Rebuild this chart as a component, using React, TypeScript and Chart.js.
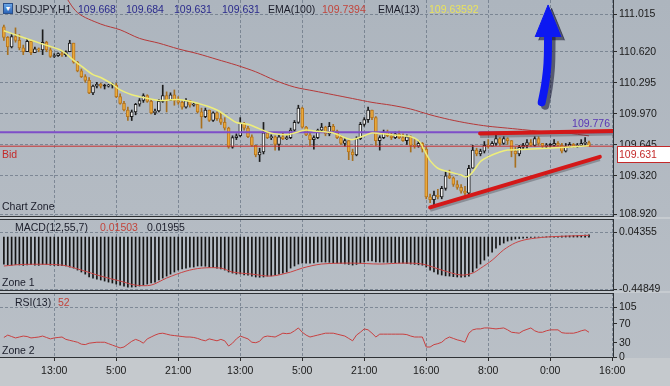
import React, { useEffect, useRef } from "react";
import { Chart, registerables } from "chart.js";

Chart.register(...registerables);

const FONT = '"Liberation Sans", Arial, Helvetica, sans-serif';
const GRID = "rgba(88,102,118,0.6)";
const X_MIN = -1;
const X_MAX = 157.2;

// ---------- time axis ----------
const timeTickIdx = [13, 29, 45, 61, 77, 93, 109, 125, 141, 157];
const timeLabels = ["13:00", "5:00", "21:00", "13:00", "5:00", "21:00", "16:00", "8:00", "0:00", "16:00"];

// ---------- candles (USDJPY H1) ----------
const firstOpen = 110.88;
const closes = [
  110.77, 110.67, 110.78, 110.74, 110.66, 110.62, 110.73, 110.61, 110.65, 110.64,
  110.72, 110.64, 110.57, 110.58, 110.60, 110.59, 110.62, 110.71, 110.51, 110.42,
  110.36, 110.32, 110.19, 110.26, 110.28, 110.26, 110.26, 110.27, 110.27, 110.15,
  110.08, 110.01, 109.94, 109.99, 110.07, 110.11, 110.16, 110.10, 109.98, 110.00,
  110.10, 110.16, 110.11, 110.17, 110.11, 110.09, 110.04, 110.11, 110.06, 110.07,
  109.99, 109.94, 110.01, 109.90, 109.98, 109.92, 109.88, 109.82, 109.62, 109.72,
  109.74, 109.87, 109.82, 109.73, 109.64, 109.54, 109.57, 109.77, 109.72, 109.73,
  109.65, 109.73, 109.71, 109.72, 109.80, 109.88, 110.03, 109.83, 109.75, 109.70,
  109.72, 109.80, 109.83, 109.76, 109.84, 109.79, 109.72, 109.66, 109.69, 109.57,
  109.54, 109.71, 109.86, 109.91, 110.01, 109.93, 109.69, 109.72, 109.78, 109.74,
  109.72, 109.76, 109.72, 109.69, 109.73, 109.64, 109.63, 109.66, 109.60, 109.10,
  109.07, 109.12, 109.10, 109.19, 109.32, 109.30, 109.23, 109.20, 109.16, 109.14,
  109.40, 109.59, 109.55, 109.58, 109.64, 109.63, 109.66, 109.71, 109.66, 109.71,
  109.69, 109.58, 109.55, 109.62, 109.64, 109.67, 109.64, 109.71, 109.66, 109.63,
  109.64, 109.64, 109.66, 109.64, 109.58, 109.63, 109.65, 109.63, 109.64, 109.66,
  109.668, 109.631,
];
const highs = [
  110.90, 110.78, 110.80, 110.87, 110.80, 110.69, 110.75, 110.73, 110.67, 110.66,
  110.85, 110.73, 110.66, 110.60, 110.61, 110.62, 110.63, 110.74, 110.71, 110.52,
  110.44, 110.38, 110.35, 110.27, 110.30, 110.29, 110.28, 110.28, 110.29, 110.29,
  110.18, 110.10, 110.04, 110.01, 110.08, 110.13, 110.18, 110.17, 110.12, 110.02,
  110.12, 110.27, 110.20, 110.19, 110.22, 110.15, 110.11, 110.13, 110.11, 110.09,
  110.08, 110.03, 110.03, 110.01, 109.99, 109.99, 109.98, 109.93, 109.83, 109.74,
  109.76, 109.93, 109.88, 109.84, 109.75, 109.64, 109.61, 109.88, 109.78, 109.75,
  109.74, 109.75, 109.77, 109.74, 109.82, 109.90, 110.06, 110.04, 109.84, 109.77,
  109.74, 109.81, 109.87, 109.84, 109.88, 109.86, 109.80, 109.74, 109.71, 109.69,
  109.60, 109.73, 109.88, 109.93, 110.04, 110.01, 109.94, 109.74, 109.80, 109.80,
  109.77, 109.78, 109.79, 109.76, 109.75, 109.74, 109.70, 109.69, 109.67, 109.62,
  109.13, 109.16, 109.18, 109.21, 109.36, 109.38, 109.31, 109.27, 109.23, 109.21,
  109.43, 109.64, 109.61, 109.60, 109.68, 109.70, 109.68, 109.75, 109.72, 109.73,
  109.72, 109.69, 109.62, 109.64, 109.66, 109.70, 109.70, 109.73, 109.73, 109.66,
  109.66, 109.66, 109.70, 109.68, 109.66, 109.66, 109.67, 109.66, 109.66, 109.70,
  109.72, 109.684,
];
const lows = [
  110.74, 110.59, 110.66, 110.72, 110.64, 110.59, 110.62, 110.59, 110.61, 110.62,
  110.59, 110.62, 110.56, 110.56, 110.57, 110.57, 110.57, 110.62, 110.50, 110.41,
  110.35, 110.30, 110.18, 110.17, 110.24, 110.24, 110.23, 110.25, 110.24, 110.14,
  110.07, 110.00, 109.90, 109.90, 109.96, 110.05, 110.09, 110.09, 109.97, 109.96,
  109.99, 110.09, 109.99, 110.11, 110.06, 110.07, 110.02, 110.03, 110.04, 110.05,
  109.98, 109.82, 109.93, 109.89, 109.89, 109.90, 109.86, 109.80, 109.61, 109.61,
  109.70, 109.73, 109.80, 109.72, 109.63, 109.52, 109.47, 109.55, 109.71, 109.70,
  109.59, 109.59, 109.70, 109.70, 109.71, 109.79, 109.87, 109.82, 109.74, 109.64,
  109.60, 109.71, 109.79, 109.74, 109.74, 109.78, 109.71, 109.65, 109.63, 109.49,
  109.48, 109.53, 109.70, 109.84, 109.88, 109.91, 109.64, 109.59, 109.71, 109.73,
  109.70, 109.71, 109.71, 109.68, 109.65, 109.57, 109.61, 109.62, 109.57, 109.08,
  109.04, 108.99, 109.08, 109.08, 109.17, 109.29, 109.21, 109.18, 109.14, 109.12,
  109.11, 109.40, 109.53, 109.53, 109.56, 109.61, 109.63, 109.64, 109.64, 109.65,
  109.65, 109.52, 109.41, 109.53, 109.60, 109.61, 109.63, 109.63, 109.64, 109.61,
  109.61, 109.62, 109.63, 109.63, 109.56, 109.57, 109.62, 109.62, 109.62, 109.63,
  109.64, 109.631,
];

// ---------- moving averages (sampled bar index -> value) ----------
const ema100Idx = [0, 10, 15, 19, 25, 30, 35, 40, 45, 50, 55, 60, 65, 70, 75, 80, 85, 90, 95, 100, 105, 110, 115, 120, 125, 130, 135, 140, 145, 151];
const ema100Val = [111.9, 111.55, 111.26, 111.03, 110.91, 110.85, 110.76, 110.71, 110.65, 110.6, 110.54, 110.48, 110.41, 110.32, 110.25, 110.21, 110.17, 110.13, 110.09, 110.06, 110.02, 109.96, 109.91, 109.87, 109.84, 109.82, 109.8, 109.78, 109.77, 109.7394];
const ema13Idx = [0, 5, 10, 15, 18, 20, 23, 25, 28, 30, 33, 35, 40, 45, 50, 55, 58, 60, 63, 65, 68, 70, 73, 75, 78, 80, 85, 88, 90, 93, 95, 100, 105, 107, 108, 109, 110, 112, 115, 118, 119, 120, 121, 123, 125, 128, 130, 135, 140, 145, 151];
const ema13Val = [110.84, 110.77, 110.7, 110.63, 110.53, 110.47, 110.38, 110.35, 110.28, 110.22, 110.17, 110.15, 110.11, 110.12, 110.08, 110.01, 109.93, 109.88, 109.86, 109.83, 109.78, 109.76, 109.75, 109.77, 109.8, 109.79, 109.77, 109.72, 109.7, 109.74, 109.77, 109.75, 109.73, 109.69, 109.63, 109.55, 109.48, 109.4, 109.36, 109.33, 109.31, 109.32, 109.36, 109.47, 109.52, 109.57, 109.59, 109.6, 109.61, 109.62, 109.63592];

// ---------- levels / drawings ----------
const levelPrice = 109.776;
const supportX = [110.0, 153.8];
const supportY = [108.99, 109.52];
const resistX = [122.9, 157.2];
const resistY = [109.764, 109.79];
const arrowShaftX = [138.8, 139.7, 140.3, 140.45];
const arrowShaftY = [110.09, 110.28, 110.5, 110.8];
const arrowHeadX = [137.1, 140.45, 143.8];
const arrowHeadY = [110.775, 111.11, 110.775];

// ---------- MACD(12,55,7) ----------
const macdMain = [
  -0.235, -0.24, -0.243, -0.238, -0.241, -0.245, -0.24, -0.238, -0.242, -0.244,
  -0.236, -0.238, -0.243, -0.245, -0.246, -0.247, -0.25, -0.259, -0.268, -0.285,
  -0.302, -0.32, -0.345, -0.354, -0.363, -0.371, -0.38, -0.389, -0.397, -0.406,
  -0.415, -0.423, -0.432, -0.432, -0.43, -0.423, -0.415, -0.406, -0.397, -0.389,
  -0.371, -0.354, -0.337, -0.32, -0.302, -0.285, -0.276, -0.268, -0.259, -0.259,
  -0.25, -0.25, -0.252, -0.259, -0.262, -0.268, -0.276, -0.285, -0.302, -0.311,
  -0.32, -0.318, -0.328, -0.33, -0.337, -0.345, -0.347, -0.345, -0.337, -0.335,
  -0.328, -0.32, -0.311, -0.302, -0.268, -0.25, -0.233, -0.225, -0.225, -0.226,
  -0.224, -0.216, -0.215, -0.216, -0.218, -0.223, -0.226, -0.228, -0.233, -0.236,
  -0.242, -0.236, -0.226, -0.216, -0.207, -0.205, -0.214, -0.216, -0.217, -0.218,
  -0.219, -0.222, -0.224, -0.226, -0.23, -0.233, -0.236, -0.24, -0.243, -0.259,
  -0.285, -0.302, -0.32, -0.328, -0.335, -0.337, -0.342, -0.345, -0.347, -0.345,
  -0.337, -0.302, -0.268, -0.233, -0.199, -0.164, -0.13, -0.095, -0.069, -0.052,
  -0.035, -0.026, -0.017, -0.013, -0.009, -0.008, -0.004, -0.003, -0.002, 0.0,
  0.002, 0.004, 0.005, 0.006, 0.008, 0.009, 0.01, 0.012, 0.013, 0.015,
  0.017, 0.01955,
];
const signalIdx = [0, 5, 15, 20, 25, 30, 34, 38, 42, 47, 51, 56, 59, 64, 69, 74, 77, 82, 90, 97, 103, 108, 113, 118, 121, 123, 126, 129, 132, 135, 140, 145, 151];
const signalVal = [-0.25, -0.236, -0.242, -0.285, -0.337, -0.38, -0.415, -0.415, -0.354, -0.294, -0.268, -0.268, -0.302, -0.32, -0.337, -0.302, -0.268, -0.233, -0.225, -0.233, -0.225, -0.233, -0.285, -0.328, -0.311, -0.27, -0.2, -0.11, -0.05, -0.02, 0.0, 0.008, 0.01503];

// ---------- RSI(13) ----------
const rsiVals = [
  41, 46, 43, 40, 42, 44, 43, 40, 41, 42,
  44, 41, 38, 40, 41, 42, 37, 35, 33, 31,
  27, 26, 29, 30, 31, 31, 31, 28, 25, 22,
  19, 21, 27, 33, 37, 34, 29, 38, 42, 46,
  49, 50, 48, 46, 45, 44, 43, 42, 42, 41,
  39, 36, 34, 38, 36, 34, 37, 34, 23, 29,
  38, 44, 41, 38, 31, 30, 33, 42, 44, 43,
  42, 46, 50, 49, 50, 55, 61, 52, 46, 42,
  44, 46, 48, 50, 50, 50, 48, 46, 44, 39,
  34, 46, 52, 59, 57, 50, 42, 48, 48, 48,
  48, 48, 48, 48, 47, 44, 42, 42, 42, 21,
  21, 26, 28, 31, 38, 42, 39, 36, 34, 31,
  50, 57, 59, 59, 61, 61, 60, 59, 60, 61,
  57, 52, 51, 50, 55, 58, 61, 55, 52, 52,
  55, 57, 57, 57, 51, 50, 50, 50, 52, 55,
  57, 52,
];

// ---------- axes ----------
const priceTicks = [111.015, 110.62, 110.295, 109.97, 109.645, 109.32, 108.92];
const macdTicks = [0.04355, -0.44849];
const rsiTicks = [105, 70, 30, 0];

const xAxis = (fitHeight: number, labels: boolean) => ({
  type: "linear",
  min: X_MIN,
  max: X_MAX,
  offset: false,
  afterBuildTicks: (s: any) => {
    s.ticks = timeTickIdx.map((v) => ({ value: v }));
  },
  afterFit: (s: any) => {
    s.height = fitHeight;
    s.paddingLeft = 0;
    s.paddingRight = 0;
  },
  ticks: labels
    ? {
        display: true,
        autoSkip: false,
        maxRotation: 0,
        padding: 4,
        color: "#1a1a1a",
        font: { family: FONT, size: 10.5 },
        callback: (_v: any, i: number) => timeLabels[i] ?? "",
      }
    : { display: false },
  grid: {
    color: GRID,
    offset: false,
    drawTicks: labels,
    tickLength: 4,
    tickColor: "#2a2a2a",
    tickBorderDash: [],
    lineWidth: 1,
  },
  border: { display: false, dash: [3, 2] },
});

const yAxis = (min: number, max: number, ticks: number[], fmt: (v: number) => string, gridColor: any) => ({
  type: "linear",
  position: "right",
  min,
  max,
  afterBuildTicks: (s: any) => {
    s.ticks = ticks.map((v) => ({ value: v }));
  },
  afterFit: (s: any) => {
    s.width = 57;
    s.paddingTop = 0;
    s.paddingBottom = 0;
  },
  ticks: {
    autoSkip: false,
    padding: 2,
    color: "#1a1a1a",
    font: { family: FONT, size: 10.5 },
    callback: (v: any) => fmt(Number(v)),
  },
  grid: {
    color: gridColor,
    drawTicks: true,
    tickLength: 4,
    tickColor: "#2a2a2a",
    tickBorderDash: [],
    lineWidth: 1,
  },
  border: { display: false, dash: [3, 2] },
});

const baseOptions = (scales: any) => ({
  animation: false,
  responsive: false,
  maintainAspectRatio: false,
  events: [],
  layout: { padding: 0 },
  plugins: { legend: { display: false }, tooltip: { enabled: false } },
  scales,
});

const pts = (xs: number[], ys: number[]) => xs.map((x, k) => ({ x, y: ys[k] }));

export default function App() {
  const refA = useRef<HTMLCanvasElement>(null);
  const refB = useRef<HTMLCanvasElement>(null);
  const refC = useRef<HTMLCanvasElement>(null);

  const opens = closes.map((c, i) => (i === 0 ? firstOpen : closes[i - 1]));
  const last = closes.length - 1;
  const bidPrice = closes[last];

  useEffect(() => {
    document.body.style.margin = "0";
    const kind = closes.map((c, i) => (c > opens[i] ? 1 : c < opens[i] ? -1 : 0));
    const idx = closes.map((_, i) => i);

    const overlay = {
      id: "overlay",
      afterDraw(chart: any) {
        const { ctx, chartArea, scales } = chart;
        const yb = scales.y.getPixelForValue(bidPrice);
        const yl = scales.y.getPixelForValue(levelPrice);
        ctx.save();
        ctx.font = `10.5px ${FONT}`;
        ctx.textBaseline = "middle";
        ctx.fillStyle = "#c42a2a";
        ctx.textAlign = "left";
        ctx.fillText("Bid", chartArea.left + 2, yb + 9);
        ctx.fillStyle = "#5a36b4";
        ctx.textAlign = "right";
        ctx.fillText(levelPrice.toFixed(3), chartArea.right - 3, yl - 8);
        const bx = chartArea.right + 4;
        const top = Math.round(yb);
        ctx.fillStyle = "#ffffff";
        ctx.fillRect(bx, top, chart.width - bx, 17);
        ctx.strokeStyle = "#c42a2a";
        ctx.lineWidth = 1;
        ctx.strokeRect(bx + 0.5, top + 0.5, chart.width - bx, 16);
        ctx.fillStyle = "#c42a2a";
        ctx.textAlign = "left";
        ctx.fillText(bidPrice.toFixed(3), bx + 2, top + 9);
        ctx.restore();
      },
    };

    const lineDs = (data: any[], color: string, width: number, order: number, extra: any = {}) => ({
      type: "line",
      data,
      borderColor: color,
      borderWidth: width,
      pointRadius: 0,
      tension: 0,
      fill: false,
      order,
      ...extra,
    });

    const shadowShift = (xs: number[], dx: number) => xs.map((x) => x + dx);
    const shadowDrop = (ys: number[], dy: number) => ys.map((y) => y - dy);

    const chartA = new Chart(refA.current as HTMLCanvasElement, {
      type: "bar",
      data: {
        datasets: [
          lineDs(pts(arrowHeadX, arrowHeadY), "#0a16ee", 1, 0, { fill: { value: arrowHeadY[0] }, backgroundColor: "#0c18f2" }),
          lineDs(pts(arrowShaftX, arrowShaftY), "#0c18f2", 8, 1, { tension: 0.4, borderCapStyle: "round" }),
          lineDs(pts(shadowShift(arrowHeadX, 0.9), shadowDrop(arrowHeadY, 0.035)), "rgba(15,15,45,0.55)", 1, 2, {
            fill: { value: arrowHeadY[0] - 0.035 },
            backgroundColor: "rgba(15,15,45,0.55)",
          }),
          lineDs(pts(shadowShift(arrowShaftX, 0.9), shadowDrop(arrowShaftY, 0.035)), "rgba(15,15,45,0.55)", 8, 3, { tension: 0.4, borderCapStyle: "round" }),
          lineDs(pts(supportX, supportY), "#d41818", 4, 4, { borderCapStyle: "round" }),
          lineDs(pts(resistX, resistY), "#d41818", 4, 5, { borderCapStyle: "round" }),
          lineDs(pts(supportX, shadowDrop(supportY, 0.025)), "rgba(60,60,70,0.35)", 4, 6),
          lineDs(pts(resistX, shadowDrop(resistY, 0.025)), "rgba(60,60,70,0.35)", 4, 7),
          lineDs(pts(ema13Idx, ema13Val), "#eeee7a", 1.5, 8, { tension: 0.3 }),
          lineDs([{ x: X_MIN, y: bidPrice }, { x: X_MAX, y: bidPrice }], "#c83030", 1, 9),
          lineDs([{ x: X_MIN, y: levelPrice }, { x: X_MAX, y: levelPrice }], "#7e4ec8", 2, 10),
          lineDs(pts(ema100Idx, ema100Val), "#b53838", 1, 11, { tension: 0.3 }),
          {
            type: "bar",
            data: idx.map((i) => ({ x: i, y: [opens[i], closes[i]] })),
            barThickness: 3,
            grouped: false,
            minBarLength: 1,
            backgroundColor: kind.map((k) => (k < 0 ? "#e9a93c" : k > 0 ? "#f4f4f4" : "#1c1c1c")),
            borderColor: kind.map((k) => (k < 0 ? "#b8761e" : "#1c1c1c")),
            borderWidth: 1,
            borderSkipped: false,
            order: 12,
          },
          {
            type: "bar",
            data: idx.map((i) => ({ x: i, y: [lows[i], highs[i]] })),
            barThickness: 1,
            grouped: false,
            backgroundColor: kind.map((k) => (k < 0 ? "#a8701e" : "#1c1c1c")),
            borderWidth: 0,
            order: 13,
          },
        ],
      } as any,
      options: baseOptions({
        x: xAxis(6, false),
        y: yAxis(108.9, 111.162, priceTicks, (v) => v.toFixed(3), GRID),
      }) as any,
      plugins: [overlay],
    });

    const chartB = new Chart(refB.current as HTMLCanvasElement, {
      type: "bar",
      data: {
        datasets: [
          lineDs(pts(signalIdx, signalVal), "#c84545", 1, 0, { tension: 0.3 }),
          {
            type: "bar",
            data: macdMain.map((v, i) => ({ x: i, y: v })),
            barThickness: 1,
            grouped: false,
            backgroundColor: "#141414",
            borderWidth: 0,
            order: 1,
          },
        ],
      } as any,
      options: baseOptions({
        x: xAxis(6, false),
        y: yAxis(-0.4571, 0.1558, macdTicks, (v) => v.toFixed(5), GRID),
      }) as any,
    });

    const chartC = new Chart(refC.current as HTMLCanvasElement, {
      type: "line",
      data: {
        datasets: [lineDs(rsiVals.map((v, i) => ({ x: i, y: v })), "#c84040", 1, 0)],
      } as any,
      options: baseOptions({
        x: xAxis(29, true),
        y: yAxis(0, 134.4, rsiTicks, (v) => String(v), (c: any) =>
          c.tick && (c.tick.value === 105 || c.tick.value === 0) ? GRID : "rgba(0,0,0,0)"
        ),
      }) as any,
    });

    return () => {
      chartA.destroy();
      chartB.destroy();
      chartC.destroy();
    };
  }, []);

  const txt = (t: string, x: number, y: number, color: string, key: string, size = 10.5) => (
    <span
      key={key}
      style={{
        position: "absolute",
        left: x,
        top: y - 7,
        lineHeight: "14px",
        fontSize: size,
        fontFamily: FONT,
        color,
        whiteSpace: "nowrap",
      }}
    >
      {t}
    </span>
  );

  const frame = (top: number, height: number, key: string) => (
    <div
      key={key}
      style={{
        position: "absolute",
        left: -1,
        top,
        width: 615,
        height,
        boxSizing: "border-box",
        border: "1px solid #2e3236",
        pointerEvents: "none",
      }}
    />
  );

  return (
    <div
      style={{
        position: "fixed",
        left: 0,
        top: 0,
        width: 670,
        height: 386,
        overflow: "hidden",
        background: "linear-gradient(#adb5be 0%, #b4bbc3 55%, #bac0c7 100%)",
      }}
    >
      <div style={{ position: "absolute", left: 0, top: 217, width: 670, height: 2, background: "#c6cbd0" }} />
      <div style={{ position: "absolute", left: 0, top: 291, width: 670, height: 2, background: "#c6cbd0" }} />
      <div style={{ position: "absolute", left: 0, top: 358, width: 670, height: 28, background: "#c5c9cd" }} />
      <canvas ref={refA} width={670} height={222} style={{ position: "absolute", left: 0, top: 0, width: 670, height: 222 }} />
      <canvas ref={refB} width={670} height={77} style={{ position: "absolute", left: 0, top: 219, width: 670, height: 77 }} />
      <canvas ref={refC} width={670} height={93} style={{ position: "absolute", left: 0, top: 293, width: 670, height: 93 }} />
      {frame(-1, 218, "f1")}
      {frame(219, 72, "f2")}
      {frame(293, 65, "f3")}
      <div
        style={{
          position: "absolute",
          left: 3,
          top: 3,
          width: 10,
          height: 11,
          background: "linear-gradient(#6aa6e6, #2b64b8)",
          border: "1px solid #2a4f8a",
          boxSizing: "border-box",
          color: "#fff",
          fontSize: 7,
          lineHeight: "9px",
          textAlign: "center",
          fontFamily: FONT,
        }}
      >
        ▼
      </div>
      {txt("USDJPY,H1", 15, 9, "#1b1d2a", "h0")}
      {txt(opens[last].toFixed(3), 78, 9, "#2a2a8c", "h1")}
      {txt(highs[last].toFixed(3), 126, 9, "#2a2a8c", "h2")}
      {txt(lows[last].toFixed(3), 174, 9, "#2a2a8c", "h3")}
      {txt(closes[last].toFixed(3), 222, 9, "#2a2a8c", "h4")}
      {txt("EMA(100)", 268, 9, "#1b1d2a", "h5")}
      {txt(ema100Val[ema100Val.length - 1].toFixed(4), 322, 9, "#c2453c", "h6")}
      {txt("EMA(13)", 378, 9, "#1b1d2a", "h7")}
      {txt(ema13Val[ema13Val.length - 1].toFixed(5), 429, 9, "#e8e25e", "h8")}
      {txt("Chart Zone", 2, 206, "#1b1d2a", "z0")}
      {txt("MACD(12,55,7)", 15, 227, "#1b1d2a", "m0")}
      {txt(signalVal[signalVal.length - 1].toFixed(5), 100, 227, "#c2453c", "m1")}
      {txt(macdMain[macdMain.length - 1].toFixed(5), 147, 227, "#1b1d2a", "m2")}
      {txt("Zone 1", 2, 282, "#1b1d2a", "z1")}
      {txt("RSI(13)", 15, 302, "#1b1d2a", "r0")}
      {txt(String(rsiVals[rsiVals.length - 1]), 58, 302, "#c2453c", "r1")}
      {txt("Zone 2", 2, 350, "#1b1d2a", "z2")}
    </div>
  );
}
